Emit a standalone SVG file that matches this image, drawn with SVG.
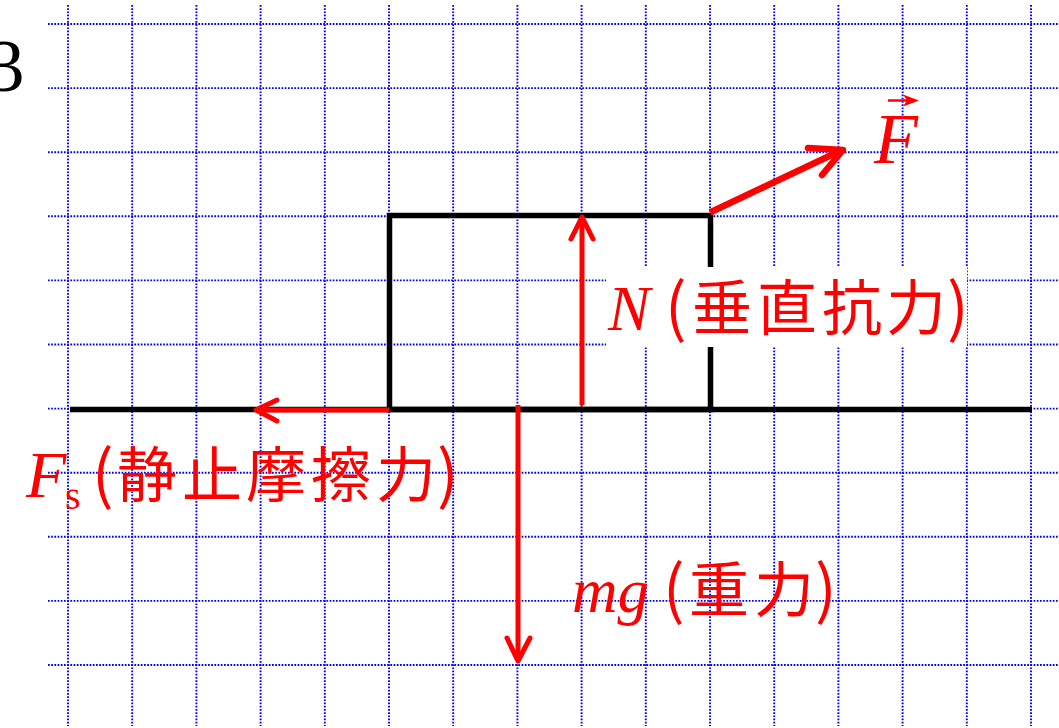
<svg xmlns="http://www.w3.org/2000/svg" width="1059" height="728" viewBox="0 0 1059 728">
<style>
.grid line{stroke:#0000ff;stroke-width:1.9;stroke-dasharray:1.7 1.5;fill:none}
.blk{stroke:#000;stroke-width:5.5;fill:none}
.red{stroke:#ff0000;stroke-width:5;fill:none;stroke-linecap:round;stroke-linejoin:round}
.lat{font-family:"Liberation Serif","Times New Roman",serif;fill:#ff0000}
.it{font-style:italic}
.cjk{font-family:"Noto Sans CJK JP","Noto Sans",sans-serif;fill:#ff0000;font-size:60px}
.par{font-family:"Noto Sans CJK JP","Noto Sans",sans-serif;fill:#ff0000;font-size:64px}
</style>
<rect width="1059" height="728" fill="#fff"/>
<g class="grid" id="grid">
<line x1="68" y1="5" x2="68" y2="726"/>
<line x1="132.2" y1="5" x2="132.2" y2="726"/>
<line x1="196.4" y1="5" x2="196.4" y2="726"/>
<line x1="260.6" y1="5" x2="260.6" y2="726"/>
<line x1="324.8" y1="5" x2="324.8" y2="726"/>
<line x1="389" y1="5" x2="389" y2="726"/>
<line x1="453.2" y1="5" x2="453.2" y2="726"/>
<line x1="517.4" y1="5" x2="517.4" y2="726"/>
<line x1="581.6" y1="5" x2="581.6" y2="726"/>
<line x1="645.8" y1="5" x2="645.8" y2="726"/>
<line x1="710" y1="5" x2="710" y2="726"/>
<line x1="774.2" y1="5" x2="774.2" y2="726"/>
<line x1="838.4" y1="5" x2="838.4" y2="726"/>
<line x1="902.6" y1="5" x2="902.6" y2="726"/>
<line x1="966.8" y1="5" x2="966.8" y2="726"/>
<line x1="1031" y1="5" x2="1031" y2="726"/>
<line x1="48" y1="24" x2="1059" y2="24"/>
<line x1="48" y1="88.1" x2="1059" y2="88.1"/>
<line x1="48" y1="152.2" x2="1059" y2="152.2"/>
<line x1="48" y1="216.3" x2="1059" y2="216.3"/>
<line x1="48" y1="280.4" x2="1059" y2="280.4"/>
<line x1="48" y1="344.5" x2="1059" y2="344.5"/>
<line x1="48" y1="408.6" x2="1059" y2="408.6"/>
<line x1="48" y1="472.7" x2="1059" y2="472.7"/>
<line x1="48" y1="536.8" x2="1059" y2="536.8"/>
<line x1="48" y1="600.9" x2="1059" y2="600.9"/>
<line x1="48" y1="665" x2="1059" y2="665"/>
</g>
<text x="-13" y="91" font-family="Liberation Serif,serif" font-size="75" fill="#000">3</text>
<g id="ground"><line class="blk" x1="70" y1="409.5" x2="1032" y2="409.5"/></g>
<g id="block"><rect class="blk" x="389.5" y="215.5" width="321" height="194"/></g>
<g id="connectors">
<g id="arrow-F">
<line class="red" x1="710" y1="212.5" x2="841" y2="150.5" style="stroke-width:6.5;stroke-linecap:butt"/>
<polyline class="red" points="808,148 843,150 822,175" style="stroke-width:6.5"/>
</g>
<g id="arrow-N">
<line class="red" x1="582" y1="405" x2="582" y2="218" style="stroke-linecap:butt"/>
<polyline class="red" points="571,239 582,217 593,239"/>
</g>
<g id="arrow-fs">
<line class="red" x1="389" y1="410" x2="257" y2="410" style="stroke-linecap:butt"/>
<polyline class="red" points="277,400 256,410 277,421"/>
</g>
<g id="arrow-mg">
<line class="red" x1="518" y1="405" x2="518" y2="659" style="stroke-linecap:butt"/>
<polyline class="red" points="507,638 518,661 530,638"/>
</g>
</g>
<g id="label-F">
<text class="lat it" x="874" y="163" font-size="72">F</text>
<line x1="888" y1="100.5" x2="910" y2="100.5" stroke="#ff0000" stroke-width="2.5"/>
<polygon points="919,100.5 903,94.5 907,100.5 903,106.5" fill="#ff0000"/>
</g>
<g id="label-N">
<rect x="606" y="267" width="361" height="80" fill="#fff"/>
<text class="lat it" x="608" y="330" font-size="63">N</text>
<text class="par" x="665" y="330">(</text>
<text class="cjk" x="692 757 822 886" y="330">垂直抗力</text>
<text class="par" x="947" y="330">)</text>
</g>
<g id="label-fs">
<text class="lat it" x="26" y="497" font-size="66">F</text>
<text class="lat" x="65" y="509" font-size="40">s</text>
<text class="par" x="92" y="497">(</text>
<text class="cjk" x="117 182 246 311 376" y="497">静止摩擦力</text>
<text class="par" x="437" y="497">)</text>
</g>
<g id="label-mg">
<text class="lat it" x="572" y="612" font-size="63">mg</text>
<text class="par" x="663" y="612">(</text>
<text class="cjk" x="689 754" y="612">重力</text>
<text class="par" x="815" y="612">)</text>
</g>
</svg>
